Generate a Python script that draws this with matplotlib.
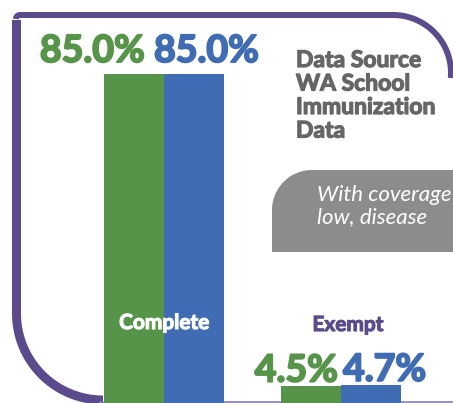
import numpy as np
import matplotlib.pyplot as plt
import matplotlib.patheffects as pe
from matplotlib.path import Path
from matplotlib.patches import PathPatch

plt.rcParams['font.family'] = ['Lato', 'DejaVu Sans']

categories = ['Complete', 'Exempt']
green_vals = [85.0, 4.5]
blue_vals = [85.0, 4.7]
green_labels = ['85.0%', '4.5%']
blue_labels = ['85.0%', '4.7%']
source_lines = ['Data Source', 'WA School', 'Immunization', 'Data']
note_lines = ['With coverage', 'low, disease']

GREEN = '#56944a'
BLUE = '#406cb4'
PURPLE = '#5b4b8c'


def heavy(color, w=1.0):
    # thicken the bold face a little
    return [pe.withStroke(linewidth=w, foreground=color)]


W, H = 453, 403
fig = plt.figure(figsize=(W / 100, H / 100), dpi=100)

# decoration layer in pixel coords (y down)
deco = fig.add_axes([0, 0, 1, 1])
deco.set_xlim(0, W)
deco.set_ylim(H, 0)
deco.axis('off')


def arc(cx, cy, r, a0, a1, n=60):
    t = np.radians(np.linspace(a0, a1, n))
    return np.column_stack([cx + r * np.cos(t), cy + r * np.sin(t)])


# left side + bottom-left corner
left = np.vstack([arc(103, 313.5, 86.5, 90, 180), [[16.5, 20]]])
deco.plot(left[:, 0], left[:, 1], color=PURPLE, lw=9 * 0.72, solid_capstyle='butt')
# top-left corner, top edge, top-right arc
top = np.vstack([arc(20, 19, 4, 180, 270, 10), [[393, 15]], arc(393, 73, 58, 270, 365)])
deco.plot(top[:, 0], top[:, 1], color=PURPLE, lw=6 * 0.72, solid_capstyle='butt')
# thin bottom line
deco.plot([100, W], [401.5, 401.5], color='#8a7cb6', lw=1.2)

# grey note box with rounded top-left corner
r = 40
box = np.vstack([[[272, 252]], arc(272 + r, 170 + r, r, 180, 270),
                 [[W + 5, 170], [W + 5, 252], [272, 252]]])
deco.add_patch(PathPatch(Path(box), facecolor='#8c8c8c', edgecolor='none'))
for i, line in enumerate(note_lines):
    deco.text(317, 201 + i * 22, line, color='white', fontsize=16, style='italic',
              ha='left', va='baseline')

for i, line in enumerate(source_lines):
    deco.text(296, 67 + i * 23.5, line, color='#666666', fontsize=16.5, fontweight='bold',
              ha='left', va='baseline', path_effects=heavy('#666666', 0.9))

# bar layer
ax = fig.add_axes([0, 0, 1, 1], zorder=2)
ax.patch.set_visible(False)
unit = 177.0
ax.set_xlim(-164 / unit, (W - 164) / unit)
ax.set_ylim(0, 85 * H / 329)
ax.axis('off')

x = np.arange(len(categories))
bw = 60 / unit
ax.bar(x - bw / 2, green_vals, bw, color=GREEN)
ax.bar(x + bw / 2, blue_vals, bw, color=BLUE)

g_off = [(11, 12), (27, 4)]
b_off = [(-40, 12), (-28, 4)]
for i in range(len(categories)):
    ax.annotate(green_labels[i], (x[i] - bw / 2, green_vals[i]), xytext=g_off[i],
                textcoords='offset pixels', ha='right', va='baseline',
                color=GREEN, fontsize=27, fontweight='bold', path_effects=heavy(GREEN, 1.4))
    ax.annotate(blue_labels[i], (x[i] + bw / 2, blue_vals[i]), xytext=b_off[i],
                textcoords='offset pixels', ha='left', va='baseline',
                color=BLUE, fontsize=27, fontweight='bold', path_effects=heavy(BLUE, 1.4))

ax.text(0.5 / unit, 85 * (H - 323) / 329, categories[0], color='white', fontsize=15,
        fontweight='bold', ha='center', va='center', path_effects=heavy('white', 0.8))
ax.text(184 / unit, 85 * (H - 325) / 329, categories[1], color=PURPLE,
        fontsize=15, fontweight='bold', ha='center', va='center', path_effects=heavy(PURPLE, 0.8))

fig.savefig('out.png', dpi=100)
